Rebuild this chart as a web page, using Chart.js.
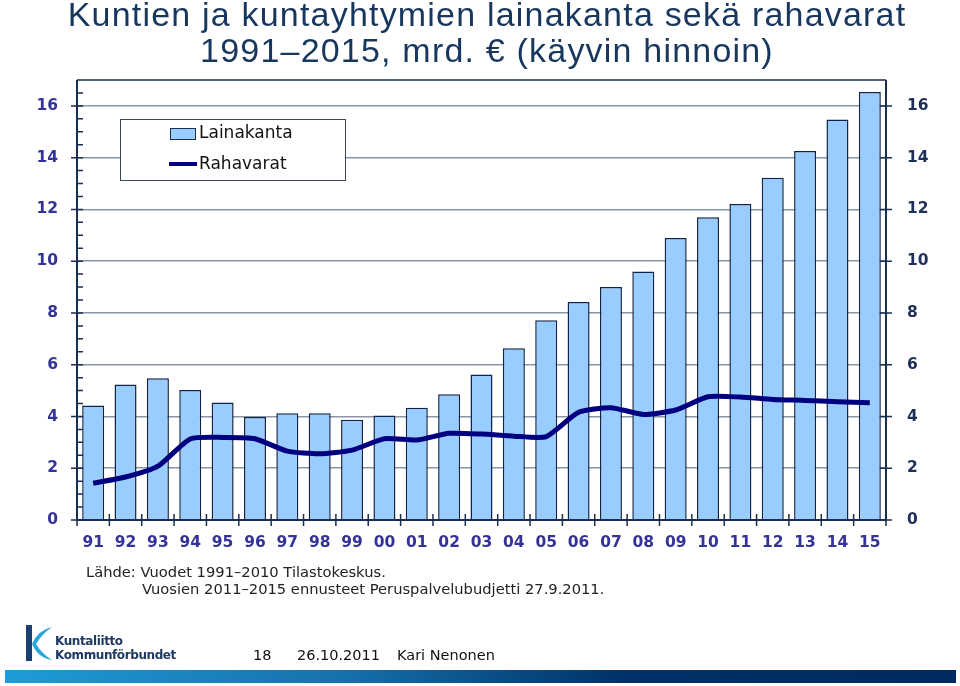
<!DOCTYPE html>
<html>
<head>
<meta charset="utf-8">
<script src="https://cdn.jsdelivr.net/npm/chart.js@4.4.1/dist/chart.umd.min.js"></script>
<style>
    html, body { margin: 0; padding: 0; background: #fff; }
    #page { position: relative; width: 960px; height: 686px; overflow: hidden; }
    #chart { position: absolute; left: 0; top: 0; }
    .title { position: absolute; left: 7px; width: 960px; text-align: center; font-family: "Liberation Sans", Arial, sans-serif; font-size: 34px; color: #17375E; line-height: 38px; white-space: nowrap; letter-spacing: 1.2px; }
    .src { position: absolute; font-family: "DejaVu Sans", sans-serif; font-size: 14.7px; color: #222; white-space: nowrap; }
    .foot { position: absolute; top: 647px; font-family: "DejaVu Sans", sans-serif; font-size: 14.5px; color: #111; white-space: nowrap; }
    .logo-txt { position: absolute; left: 55px; font-family: "DejaVu Sans", sans-serif; font-weight: bold; font-size: 12px; letter-spacing: -0.4px; color: #1F3864; white-space: nowrap; }
    #band { position: absolute; left: 5px; top: 670px; width: 951px; height: 13px;
            background: linear-gradient(to right, #1E9CD7 0%, #1672AC 35%, #003168 65%, #002A5E 100%); }
</style>
</head>
<body>
<div id="page">
    <canvas id="chart" width="960" height="686"></canvas>
    <div class="title" style="top:-5px">Kuntien ja kuntayhtymien lainakanta sekä rahavarat</div>
    <div class="title" style="top:31px">1991–2015, mrd. € (käyvin hinnoin)</div>
    <div class="src" style="left:86px; top:563px">Lähde: Vuodet 1991–2010 Tilastokeskus.</div>
    <div class="src" style="left:142px; top:580px">Vuosien 2011–2015 ennusteet Peruspalvelubudjetti 27.9.2011.</div>
    <svg style="position:absolute; left:20px; top:622px" width="40" height="42">
        <rect x="6" y="3" width="6" height="36" fill="#1B3F73"/>
        <path d="M12 22 Q18 8 32 5 Q22 12 16 22 Q22 32 32 38 Q18 36 12 22 Z" fill="#2AA5DC"/>
    </svg>
    <div class="logo-txt" style="top:634px">Kuntaliitto</div>
    <div class="logo-txt" style="top:648px">Kommunförbundet</div>
    <div class="foot" style="left:253px">18</div>
    <div class="foot" style="left:297px">26.10.2011</div>
    <div class="foot" style="left:397px">Kari Nenonen</div>
    <div id="band"></div>
</div>
<script>
// Vuodet 1991-2015
const years = ["91", "92", "93", "94", "95", "96", "97", "98", "99", "00", "01", "02", "03",
               "04", "05", "06", "07", "08", "09", "10", "11", "12", "13", "14", "15"];

// Lainakanta, mrd. €
const lainakanta = [4.42, 5.24, 5.48, 5.02, 4.54, 3.98, 4.12, 4.12, 3.87, 4.04, 4.34, 4.86, 5.62,
                    6.64, 7.72, 8.42, 9.00, 9.60, 10.90, 11.70, 12.21, 13.22, 14.26, 15.47, 16.54];

// Rahavarat, mrd. €
const rahavarat = [1.42, 1.66, 2.08, 3.13, 3.19, 3.14, 2.66, 2.56, 2.70, 3.14, 3.09, 3.35, 3.32,
                   3.24, 3.22, 4.16, 4.34, 4.08, 4.25, 4.76, 4.75, 4.66, 4.62, 4.57, 4.53];

const yTicks = [0, 2, 4, 6, 8, 10, 12, 14, 16];
const yMinorTicks = [0.5, 1, 1.5, 2.5, 3, 3.5, 4.5, 5, 5.5, 6.5, 7, 7.5, 8.5, 9, 9.5, 10.5, 11, 11.5,
                     12.5, 13, 13.5, 14.5, 15, 15.5, 16.5];

const axisColor = "#1A2E50";
const barFill = "#99CCFF";
const lineColor = "#000080";

// akselit, tikit ja selite piirretään itse
const axisPlugin = {
    id: "axisMarks",
    afterDatasetsDraw(chart) {
        const ctx = chart.ctx;
        const area = chart.chartArea;
        const y = chart.scales.y;
        const x = chart.scales.x;
        ctx.save();
        ctx.strokeStyle = axisColor;

        // yläreuna
        ctx.lineWidth = 1.5;
        ctx.beginPath();
        ctx.moveTo(area.left, area.top);
        ctx.lineTo(area.right, area.top);
        ctx.stroke();

        ctx.lineWidth = 2;
        ctx.beginPath();
        ctx.moveTo(area.left, area.top);
        ctx.lineTo(area.left, area.bottom);
        ctx.moveTo(area.right, area.top);
        ctx.lineTo(area.right, area.bottom);
        ctx.moveTo(area.left, area.bottom);
        ctx.lineTo(area.right, area.bottom);
        ctx.stroke();

        ctx.lineWidth = 1.5;
        ctx.beginPath();
        yTicks.forEach(v => {
            const py = y.getPixelForValue(v);
            ctx.moveTo(area.left - 6, py);
            ctx.lineTo(area.left + 6, py);
            ctx.moveTo(area.right - 6, py);
            ctx.lineTo(area.right + 6, py);
        });
        yMinorTicks.forEach(v => {
            const py = y.getPixelForValue(v);
            ctx.moveTo(area.left, py);
            ctx.lineTo(area.left + 6, py);
        });
        const half = (x.getPixelForValue(1) - x.getPixelForValue(0)) / 2;
        for (let i = 0; i <= years.length; i++) {
            const px = x.getPixelForValue(i) - half;
            ctx.moveTo(px, area.bottom - 6);
            ctx.lineTo(px, area.bottom + 6);
        }
        ctx.stroke();

        // selite
        const ds = chart.data.datasets;
        const barLabel = ds.find(d => d.type === "bar").label;
        const lineLabel = ds.find(d => d.type === "line").label;
        ctx.fillStyle = "#fff";
        ctx.fillRect(120, 119, 225, 61);
        ctx.strokeStyle = "#3A4654";
        ctx.lineWidth = 1;
        ctx.strokeRect(120.5, 119.5, 225, 61);

        ctx.fillStyle = barFill;
        ctx.fillRect(170, 128, 25, 11);
        ctx.strokeStyle = axisColor;
        ctx.strokeRect(170.5, 128.5, 25, 11);

        ctx.strokeStyle = lineColor;
        ctx.lineWidth = 4;
        ctx.beginPath();
        ctx.moveTo(169, 164);
        ctx.lineTo(197, 164);
        ctx.stroke();

        ctx.fillStyle = "#111";
        ctx.font = "17px 'DejaVu Sans'";
        ctx.textBaseline = "middle";
        ctx.fillText(barLabel, 199, 134);
        ctx.fillText(lineLabel, 199, 165);
        ctx.restore();
    }
};

const tickFont = { family: "DejaVu Sans", size: 15.5, weight: "bold" };

new Chart(document.getElementById("chart").getContext("2d"), {
    data: {
        labels: years,
        datasets: [{
            type: "line",
            label: "Rahavarat",
            data: rahavarat,
            borderColor: lineColor,
            borderWidth: 5,
            pointRadius: 0,
            tension: 0.2,
            order: 0
        }, {
            type: "bar",
            label: "Lainakanta",
            data: lainakanta,
            backgroundColor: barFill,
            borderColor: "#0F2447",
            borderWidth: 1.5,
            barPercentage: 0.68,
            categoryPercentage: 1,
            order: 1
        }]
    },
    options: {
        responsive: false,
        animation: false,
        layout: { padding: { top: 80, left: 0, right: 0, bottom: 0 } },
        plugins: { legend: { display: false }, tooltip: { enabled: false } },
        scales: {
            x: {
                offset: true,
                grid: { display: false },
                border: { display: false },
                ticks: { font: tickFont, color: "#333399", padding: 6, maxRotation: 0 },
                afterFit(scale) { scale.height = 166; }
            },
            y: {
                position: "left",
                min: 0,
                max: 17,
                afterBuildTicks(scale) { scale.ticks = yTicks.map(v => ({ value: v })); },
                grid: { color: "#8A96A4", lineWidth: 1.5, drawTicks: false },
                border: { display: false },
                ticks: { font: tickFont, color: "#333399", padding: 19 },
                afterFit(scale) { scale.width = 77; }
            },
            y2: {
                position: "right",
                min: 0,
                max: 17,
                afterBuildTicks(scale) { scale.ticks = yTicks.map(v => ({ value: v })); },
                grid: { drawOnChartArea: false, drawTicks: false },
                border: { display: false },
                ticks: { font: tickFont, color: "#1F2F5A", padding: 21 },
                afterFit(scale) { scale.width = 74; }
            }
        }
    },
    plugins: [axisPlugin]
});
</script>
</body>
</html>
